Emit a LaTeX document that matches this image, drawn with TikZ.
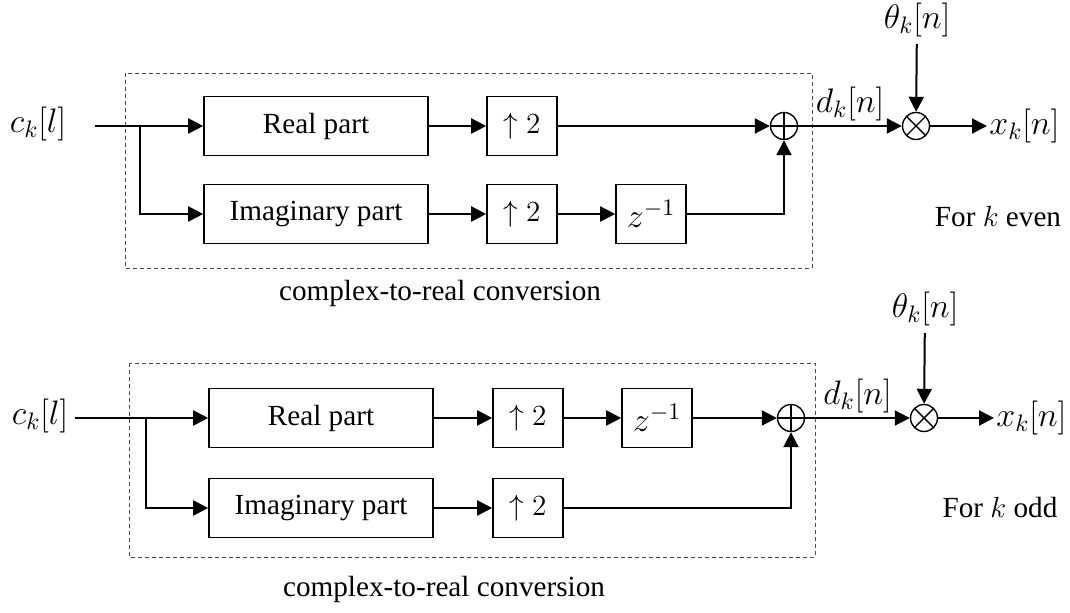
\documentclass[tikz,border=0pt]{standalone}
\usepackage{fix-cm}
\usepackage{fontspec}
\setmainfont{Liberation Serif}
\usetikzlibrary{arrows.meta,positioning,calc}

\tikzset{
  blk/.style={draw,line width=0.8pt,minimum height=29.5pt,inner sep=0pt},
  wideblk/.style={blk,minimum width=112pt},
  smallblk/.style={blk,minimum width=35pt},
  mth/.style={font=\fontsize{17}{20}\selectfont},
  wire/.style={line width=1pt},
  sig/.style={wire,-{Triangle[length=7.5pt,width=7.5pt]}},
  conv/.style={draw=black!70,line width=0.4pt,dash pattern=on 2pt off 1.5pt},
  sumnode/.style={circle,draw,line width=0.7pt,minimum size=13.5pt,inner sep=0pt,
    path picture={\draw[line width=0.7pt]
      (path picture bounding box.north) -- (path picture bounding box.south)
      (path picture bounding box.west) -- (path picture bounding box.east);}},
  mulnode/.style={circle,draw,line width=0.7pt,minimum size=13.5pt,inner sep=0pt,
    path picture={\draw[line width=0.7pt]
      ([shift={(45:7pt)}]path picture bounding box.center) -- ([shift={(225:7pt)}]path picture bounding box.center)
      ([shift={(135:7pt)}]path picture bounding box.center) -- ([shift={(315:7pt)}]path picture bounding box.center);}}
}

\begin{document}
\begin{tikzpicture}[x=0.5pt,y=-0.5pt,every node/.style={font=\fontsize{14.6}{17}\selectfont}]
\useasboundingbox (0,0) rectangle (1070,613);

% ---- k even ----
\draw[conv] (125,73) rectangle (812,268);
\node[mth] (cA) at (38,124) {$c_k[l]$};
\coordinate (inA) at (95,126);
\coordinate (brA) at (140,126);
\node[wideblk] (reA) at (316,126) {Real part};
\node[wideblk] (imA) at (316,214) {Imaginary part};
\node[smallblk] (upA) at (522,126) {$\uparrow 2$};
\node[smallblk] (upA2) at (522,214) {$\uparrow 2$};
\node[smallblk,mth] (dlA) at (651,214) {$z^{-1}$};
\node[sumnode] (sumA) at (784,126) {};
\node[mulnode] (mulA) at (916,126) {};
\node[mth] (thA) at (917,20) {$\theta_k[n]$};
\node[mth,inner sep=1pt,anchor=west] (xA) at (987,126) {$x_k[n]$};
\node (evA) at (998,217) {For $k$ even};
\node (cvA) at (440,293) {complex-to-real conversion};

\draw[wire] (inA) -- (brA);
\draw[sig] (brA) -- (reA);
\draw[sig] (brA) |- (imA);
\draw[sig] (reA) -- (upA);
\draw[sig] (upA) -- (sumA);
\draw[sig] (imA) -- (upA2);
\draw[sig] (upA2) -- (dlA);
\draw[sig] (dlA) -| (sumA);
\draw[sig] (sumA) -- node[mth,above,inner sep=2pt] (dA) {$d_k[n]$} (mulA);
\draw[sig] (thA) -- (mulA);
\draw[sig] (mulA) -- (xA);

% ---- k odd ----
\draw[conv] (129,363) rectangle (815,557);
\node[mth] (cB) at (40,416) {$c_k[l]$};
\coordinate (inB) at (75,418);
\coordinate (brB) at (146,418);
\node[wideblk] (reB) at (321,418) {Real part};
\node[wideblk] (imB) at (321,508) {Imaginary part};
\node[smallblk] (upB) at (528,418) {$\uparrow 2$};
\node[smallblk] (upB2) at (528,508) {$\uparrow 2$};
\node[smallblk,mth] (dlB) at (657,418) {$z^{-1}$};
\node[sumnode] (sumB) at (791,418) {};
\node[mulnode] (mulB) at (924,418) {};
\node[mth] (thB) at (925,309) {$\theta_k[n]$};
\node[mth,inner sep=1pt,anchor=west] (xB) at (994,418) {$x_k[n]$};
\node (odB) at (1000,508) {For $k$ odd};
\node (cvB) at (444,589) {complex-to-real conversion};

\draw[wire] (inB) -- (brB);
\draw[sig] (brB) -- (reB);
\draw[sig] (brB) |- (imB);
\draw[sig] (reB) -- (upB);
\draw[sig] (upB) -- (dlB);
\draw[sig] (dlB) -- (sumB);
\draw[sig] (imB) -- (upB2);
\draw[sig] (upB2) -| (sumB);
\draw[sig] (sumB) -- node[mth,above,inner sep=2pt] (dB) {$d_k[n]$} (mulB);
\draw[sig] (thB) -- (mulB);
\draw[sig] (mulB) -- (xB);
\end{tikzpicture}
\end{document}
